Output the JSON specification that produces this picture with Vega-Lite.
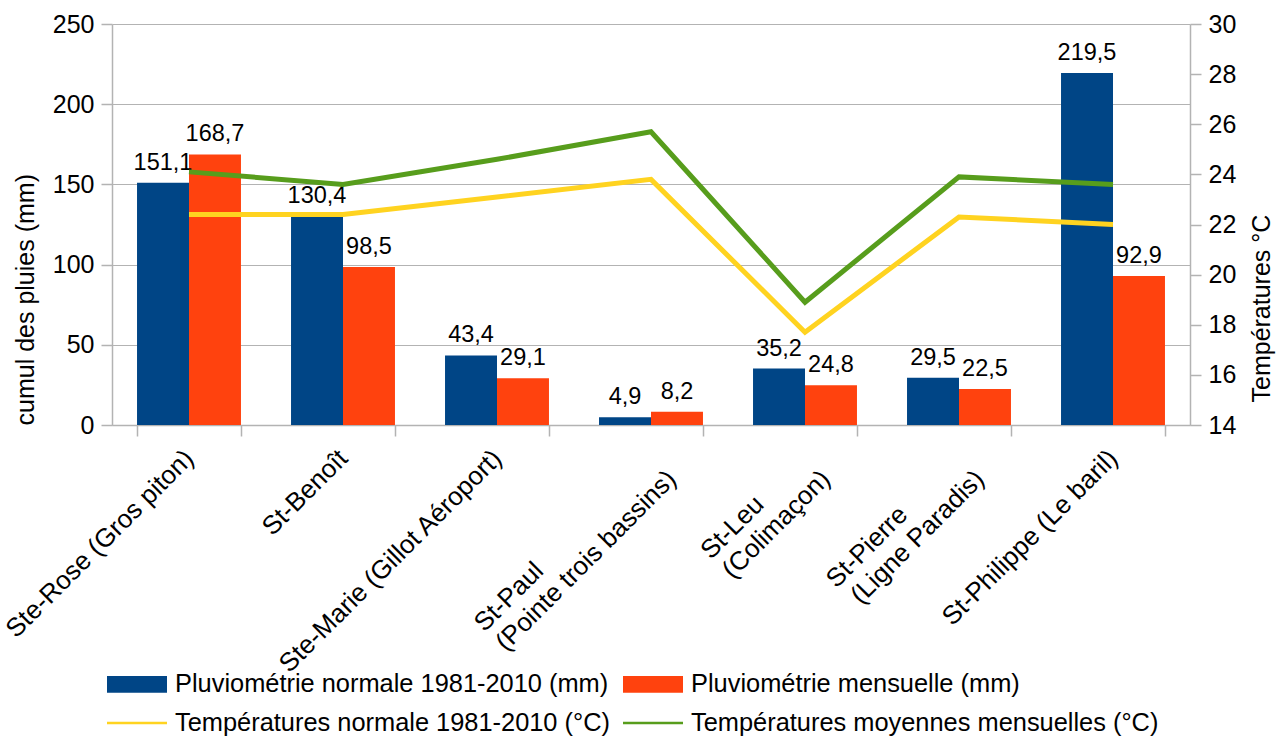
{
  "$schema": "https://vega.github.io/schema/vega-lite/v6.json",
  "width": 1078,
  "height": 401,
  "autosize": {"type": "none"},
  "padding": {"left": 112, "top": 24, "right": 91, "bottom": 312},
  "background": "white",
  "config": {
    "font": "Liberation Sans",
    "view": {"stroke": null},
    "locale": {"number": {"decimal": ",", "thousands": " ", "grouping": [3], "currency": ["", " €"]}},
    "axis": {
      "labelFont": "Liberation Sans", "labelFontSize": 25, "labelColor": "#000000",
      "titleFont": "Liberation Sans", "titleFontSize": 25, "titleFontWeight": "normal", "titleColor": "#000000",
      "domainColor": "#b3b3b3", "tickColor": "#b3b3b3", "gridColor": "#b3b3b3", "gridOpacity": 1, "domainWidth": 1.5, "tickWidth": 1.5
    }
  },
  "datasets": {
    "rain": [
      {"station": "Ste-Rose (Gros piton)", "series": "Pluviométrie normale 1981-2010 (mm)", "value": 151.1},
      {"station": "St-Benoît", "series": "Pluviométrie normale 1981-2010 (mm)", "value": 130.4},
      {"station": "Ste-Marie (Gillot Aéroport)", "series": "Pluviométrie normale 1981-2010 (mm)", "value": 43.4},
      {"station": "St-Paul\n(Pointe trois bassins)", "series": "Pluviométrie normale 1981-2010 (mm)", "value": 4.9},
      {"station": "St-Leu\n(Colimaçon)", "series": "Pluviométrie normale 1981-2010 (mm)", "value": 35.2},
      {"station": "St-Pierre\n(Ligne Paradis)", "series": "Pluviométrie normale 1981-2010 (mm)", "value": 29.5},
      {"station": "St-Philippe (Le baril)", "series": "Pluviométrie normale 1981-2010 (mm)", "value": 219.5},
      {"station": "Ste-Rose (Gros piton)", "series": "Pluviométrie mensuelle (mm)", "value": 168.7},
      {"station": "St-Benoît", "series": "Pluviométrie mensuelle (mm)", "value": 98.5},
      {"station": "Ste-Marie (Gillot Aéroport)", "series": "Pluviométrie mensuelle (mm)", "value": 29.1},
      {"station": "St-Paul\n(Pointe trois bassins)", "series": "Pluviométrie mensuelle (mm)", "value": 8.2},
      {"station": "St-Leu\n(Colimaçon)", "series": "Pluviométrie mensuelle (mm)", "value": 24.8},
      {"station": "St-Pierre\n(Ligne Paradis)", "series": "Pluviométrie mensuelle (mm)", "value": 22.5},
      {"station": "St-Philippe (Le baril)", "series": "Pluviométrie mensuelle (mm)", "value": 92.9}
    ],
    "temp": [
      {"station": "Ste-Rose (Gros piton)", "series": "Températures normale 1981-2010 (°C)", "value": 22.4},
      {"station": "St-Benoît", "series": "Températures normale 1981-2010 (°C)", "value": 22.4},
      {"station": "Ste-Marie (Gillot Aéroport)", "series": "Températures normale 1981-2010 (°C)", "value": 23.1},
      {"station": "St-Paul\n(Pointe trois bassins)", "series": "Températures normale 1981-2010 (°C)", "value": 23.8},
      {"station": "St-Leu\n(Colimaçon)", "series": "Températures normale 1981-2010 (°C)", "value": 17.7},
      {"station": "St-Pierre\n(Ligne Paradis)", "series": "Températures normale 1981-2010 (°C)", "value": 22.3},
      {"station": "St-Philippe (Le baril)", "series": "Températures normale 1981-2010 (°C)", "value": 22.0},
      {"station": "Ste-Rose (Gros piton)", "series": "Températures moyennes mensuelles (°C)", "value": 24.1},
      {"station": "St-Benoît", "series": "Températures moyennes mensuelles (°C)", "value": 23.6},
      {"station": "Ste-Marie (Gillot Aéroport)", "series": "Températures moyennes mensuelles (°C)", "value": 24.6},
      {"station": "St-Paul\n(Pointe trois bassins)", "series": "Températures moyennes mensuelles (°C)", "value": 25.7},
      {"station": "St-Leu\n(Colimaçon)", "series": "Températures moyennes mensuelles (°C)", "value": 18.9},
      {"station": "St-Pierre\n(Ligne Paradis)", "series": "Températures moyennes mensuelles (°C)", "value": 23.9},
      {"station": "St-Philippe (Le baril)", "series": "Températures moyennes mensuelles (°C)", "value": 23.6}
    ]
  },
  "layer": [
    {
      "data": {"name": "rain"},
      "encoding": {
        "x": {
          "field": "station", "type": "nominal", "sort": null,
          "scale": {"paddingInner": 0.325, "paddingOuter": 0.1625},
          "axis": {"title": null, "labelAngle": -45, "labelBaseline": "middle", "tickBand": "extent", "tickSize": 11, "grid": false, "labelPadding": 18, "labelFontSize": 26,
                   "labelExpr": "indexof(datum.label, '(') > 0 && slice(datum.label, indexof(datum.label, '(') - 1, indexof(datum.label, '(')) !== ' ' ? [pad(slice(datum.label, 0, indexof(datum.label, '(') - 1), round(length(slice(datum.label, indexof(datum.label, '('))) * 1.32), '\u00a0') + '\u200b', slice(datum.label, indexof(datum.label, '('))] : datum.label",
                   "labelLimit": 0, "labelLineHeight": 29}
        },
        "xOffset": {
          "field": "series", "type": "nominal",
          "sort": ["Pluviométrie normale 1981-2010 (mm)", "Pluviométrie mensuelle (mm)"],
          "scale": {"paddingInner": 0, "paddingOuter": 0}
        },
        "y": {
          "field": "value", "type": "quantitative",
          "scale": {"domain": [0, 250], "nice": false, "zero": true},
          "axis": {"title": "cumul des pluies (mm)", "titleAnchor": "start", "values": [0, 50, 100, 150, 200, 250], "grid": true, "tickSize": 11, "labelPadding": 7, "titlePadding": 14}
        }
      },
      "layer": [
        {
          "mark": {"type": "bar"},
          "encoding": {
            "color": {
              "field": "series", "type": "nominal",
              "scale": {
                "domain": ["Pluviométrie normale 1981-2010 (mm)", "Pluviométrie mensuelle (mm)", "Températures normale 1981-2010 (°C)", "Températures moyennes mensuelles (°C)"],
                "range": ["#004586", "#ff420e", "#ffd320", "#579d1c"]
              },
              "legend": {
                "orient": "none", "legendX": -5, "legendY": 645, "columns": 2, "direction": "horizontal",
                "title": null, "padding": 0,
                "symbolType": "M-1,-0.56H3V0.56H-1Z", "symbolSize": 900, "symbolStrokeWidth": 0,
                "labelFont": "Liberation Sans", "labelFontSize": 25.4, "labelColor": "#000000", "labelOffset": 38,
                "labelLimit": 0, "columnPadding": 13, "rowPadding": 10,
                "encode": {
                  "symbols": {
                    "update": {
                      "shape": {"signal": "indexof(datum.value, 'Pluvio') === 0 ? 'M-1,-0.56H3V0.56H-1Z' : 'M-1,-0.09H3V0.09H-1Z'"},
                      "fill": {"scale": "color", "field": "value"},
                      "strokeWidth": {"value": 0},
                      "opacity": {"value": 1}
                    }
                  }
                }
              }
            }
          }
        },
        {
          "mark": {"type": "text", "baseline": "alphabetic", "dy": -13, "fontSize": 23.5, "font": "Liberation Sans", "color": "#000000"},
          "encoding": {
            "text": {"field": "value", "type": "quantitative", "format": ".1f"}
          }
        }
      ]
    },
    {
      "data": {"name": "temp"},
      "mark": {"type": "line", "strokeWidth": 5},
      "encoding": {
        "x": {"field": "station", "type": "nominal", "sort": null},
        "y": {
          "field": "value", "type": "quantitative",
          "scale": {"domain": [14, 30], "nice": false, "zero": false},
          "axis": {"orient": "right", "title": "Températures °C", "titleAngle": 270, "titleAlign": "left", "titleBaseline": "top", "titleY": 378, "values": [14, 16, 18, 20, 22, 24, 26, 28, 30], "grid": false, "tickSize": 11, "labelPadding": 7, "titlePadding": 14}
        },
        "color": {"field": "series", "type": "nominal"}
      }
    }
  ],
  "resolve": {"scale": {"y": "independent"}}
}
